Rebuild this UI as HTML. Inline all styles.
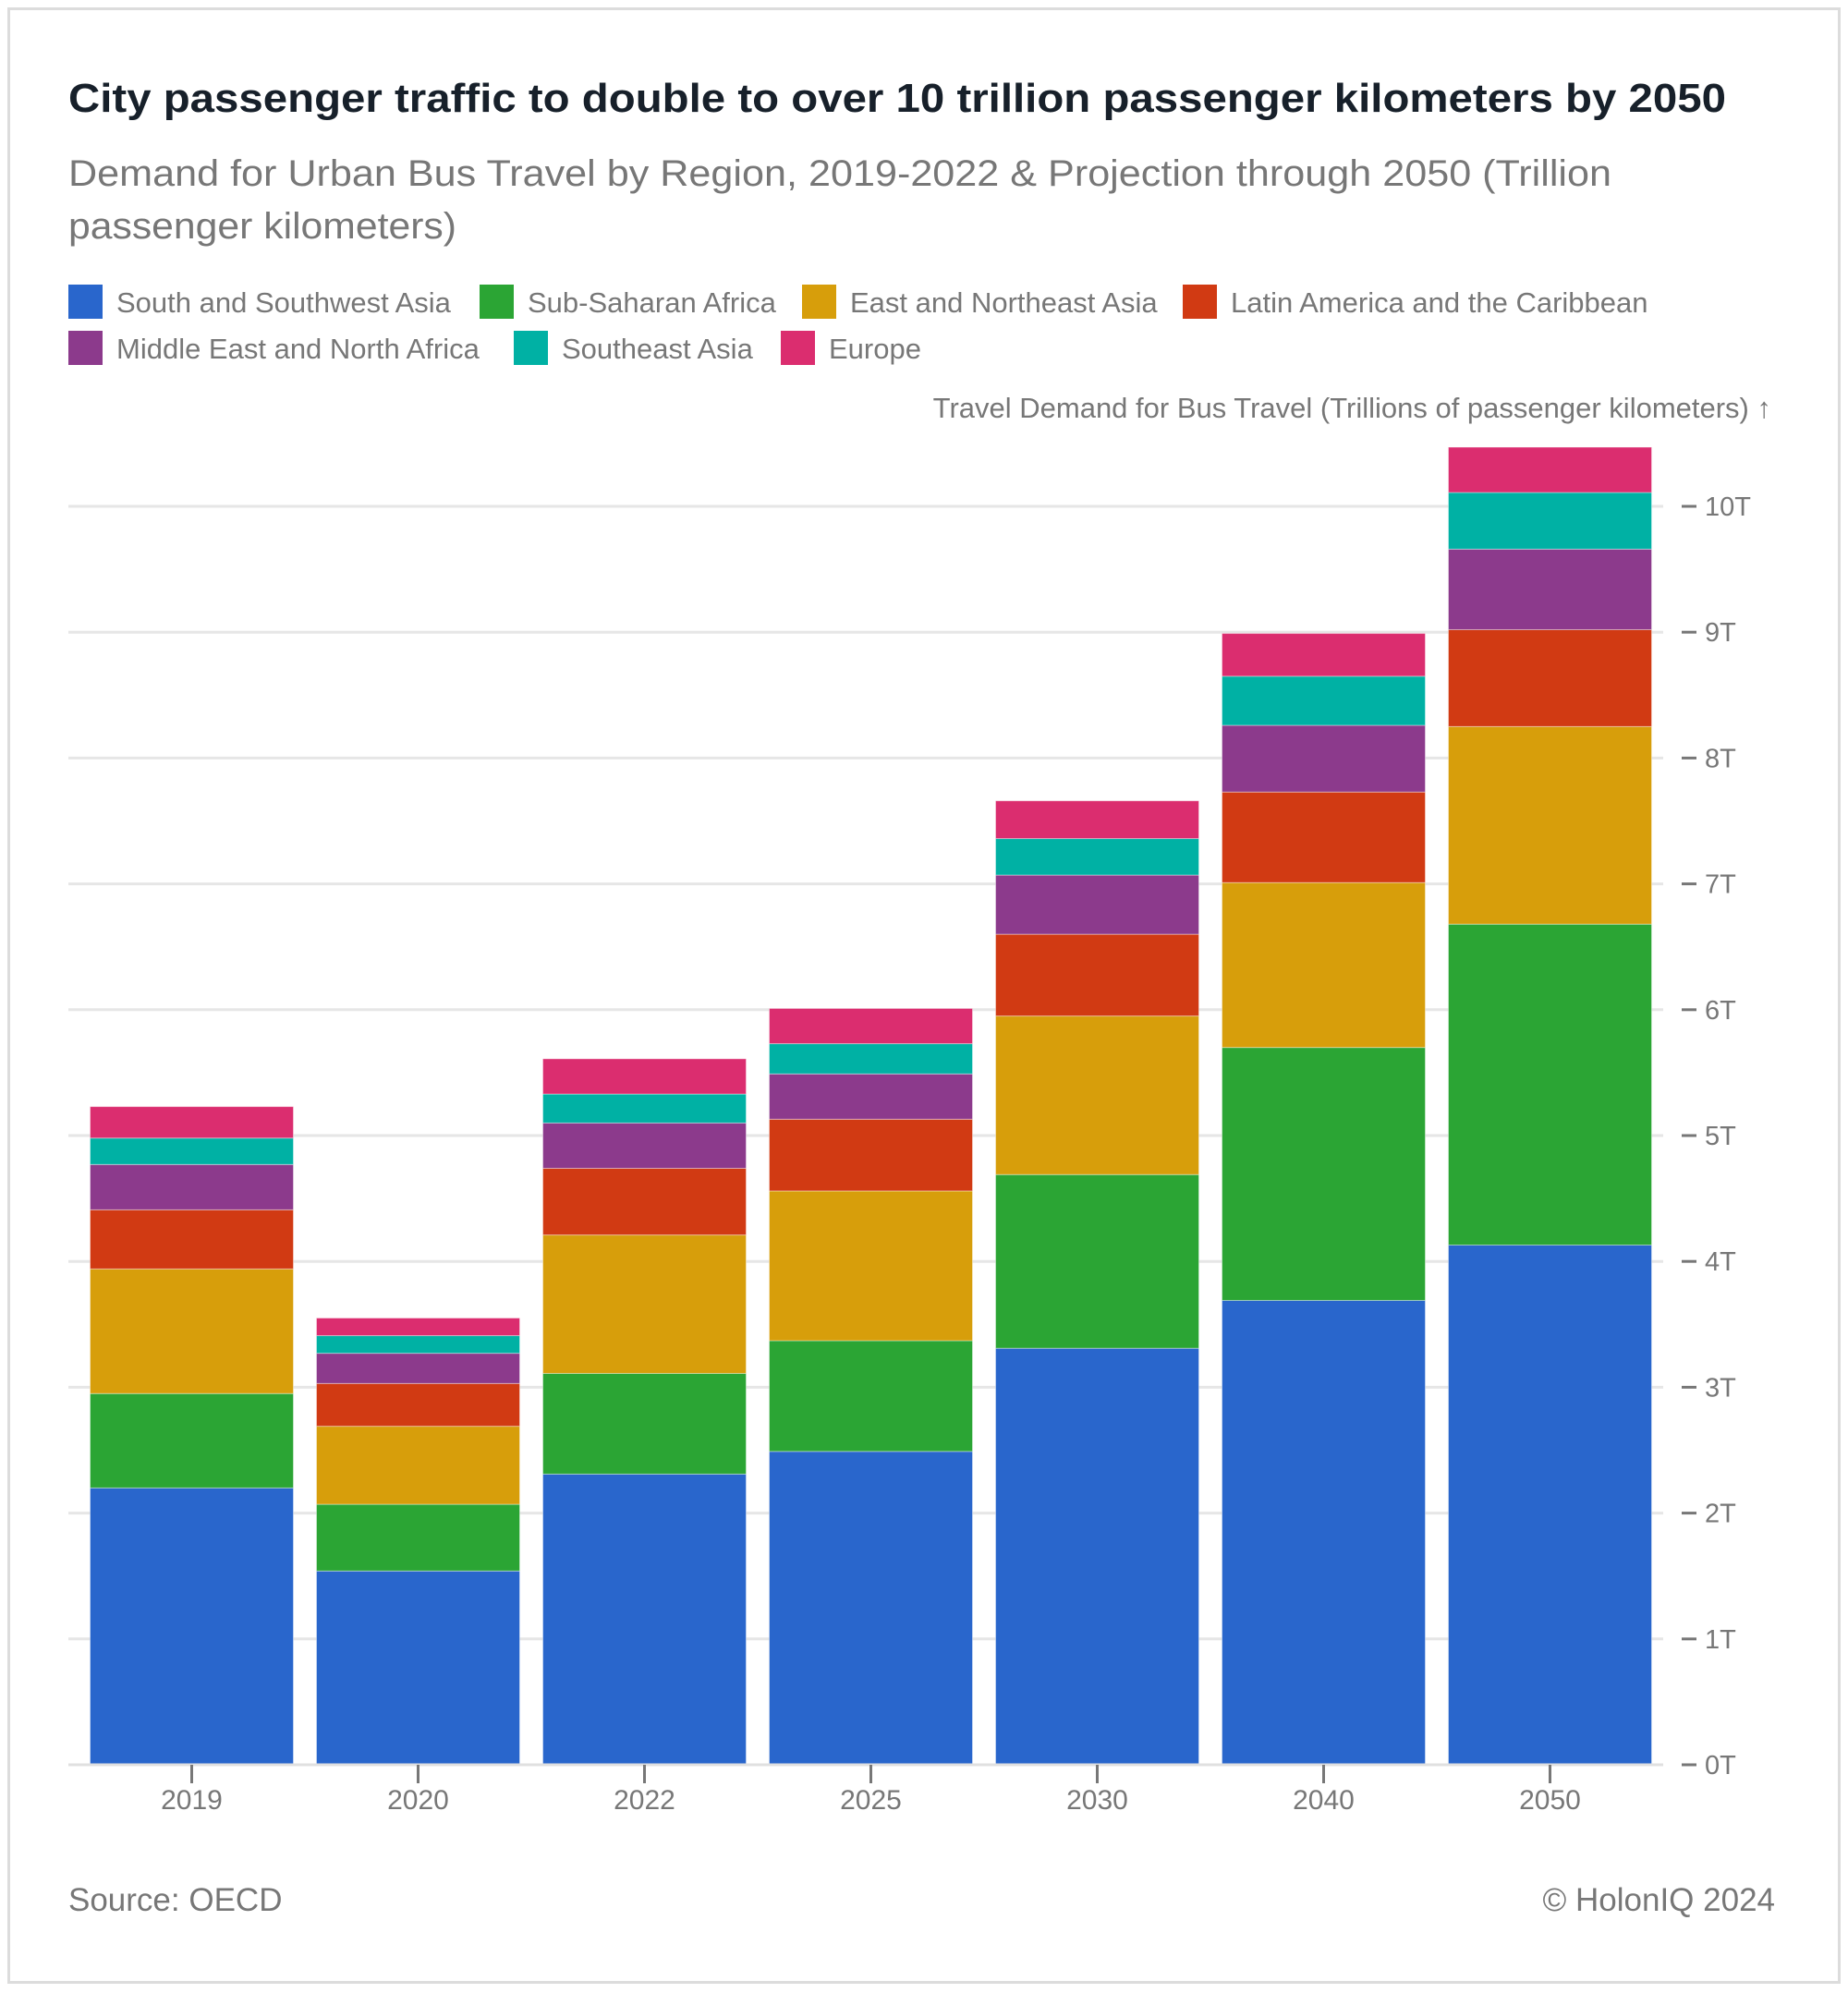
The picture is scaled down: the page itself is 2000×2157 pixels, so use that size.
<!DOCTYPE html>
<html><head><meta charset="utf-8"><style>
html,body{margin:0;padding:0;background:#fff;}
svg{display:block;font-family:"Liberation Sans",sans-serif;}
</style></head><body>
<svg id="chart" width="2000" height="2157" viewBox="0 0 2000 2157">
<rect x="9.5" y="9.5" width="1981" height="2136" fill="#fff" stroke="#dcdcdc" stroke-width="3"/>
<text x="74" y="121" font-size="44" font-weight="bold" fill="#17202a" textLength="1794" lengthAdjust="spacingAndGlyphs">City passenger traffic to double to over 10 trillion passenger kilometers by 2050</text>
<text x="74" y="201" font-size="40" fill="#777" textLength="1670" lengthAdjust="spacingAndGlyphs">Demand for Urban Bus Travel by Region, 2019-2022 &amp; Projection through 2050 (Trillion</text>
<text x="74" y="258" font-size="40" fill="#777" textLength="420" lengthAdjust="spacingAndGlyphs">passenger kilometers)</text>
<g id="legend"></g>
<text x="1917" y="452" font-size="31" fill="#777" text-anchor="end">Travel Demand for Bus Travel (Trillions of passenger kilometers) ↑</text>
<g id="grid"></g>
<g id="bars"></g>
<g id="xaxis"></g>
<text x="74" y="2068" font-size="35" fill="#777">Source: OECD</text>
<text x="1921" y="2068" font-size="35" fill="#777" text-anchor="end">© HolonIQ 2024</text>
</svg>
<script>
const categories = ["2019","2020","2022","2025","2030","2040","2050"];
const seriesNames = ["South and Southwest Asia","Sub-Saharan Africa","East and Northeast Asia","Latin America and the Caribbean","Middle East and North Africa","Southeast Asia","Europe"];
const southAsia = [2.20,1.54,2.31,2.49,3.31,3.69,4.13];
const subSaharan = [0.75,0.53,0.80,0.88,1.38,2.01,2.55];
const eastAsia = [0.99,0.62,1.10,1.19,1.26,1.31,1.57];
const latinAmerica = [0.47,0.34,0.53,0.57,0.65,0.72,0.77];
const middleEast = [0.36,0.24,0.36,0.36,0.47,0.53,0.64];
const southeastAsia = [0.21,0.14,0.23,0.24,0.29,0.39,0.45];
const europe = [0.25,0.14,0.28,0.28,0.30,0.34,0.36];
const yTicks = [0,1,2,3,4,5,6,7,8,9,10];
const yTickLabels = ["0T","1T","2T","3T","4T","5T","6T","7T","8T","9T","10T"];

const series = [southAsia,subSaharan,eastAsia,latinAmerica,middleEast,southeastAsia,europe];
const colors = ["#2966cc","#2ba534","#d79e0b","#d13a13","#8c3a8c","#00b1a4","#db2d6f"];
const NS = "http://www.w3.org/2000/svg";
const baseY = 1910, pxPerUnit = 136.2;
const y = v => baseY - v * pxPerUnit;
const bandStart = 74, band = 245, barW = 220;
const xCenter = i => bandStart + band * (i + 0.5) + 11;
function mk(tag, attrs, parent){const e=document.createElementNS(NS,tag);for(const k in attrs)e.setAttribute(k,attrs[k]);parent.appendChild(e);return e;}

const grid = document.getElementById('grid');
yTicks.forEach((t,i)=>{
  const l = mk('line',{x1:74,x2:1800,y1:y(t),y2:y(t),stroke:'#e6e6e6','stroke-width':3},grid);
  
  
  const tk = mk('line',{x1:1820,x2:1836,y1:y(t),y2:y(t),stroke:'#777','stroke-width':3},grid);
  
  
  const tx = mk('text',{x:1845,y:y(t)+10,'font-size':29,fill:'#777'},grid);
  tx.textContent = yTickLabels[i];
  
  
});

const bars = document.getElementById('bars');
categories.forEach((c,i)=>{
  let acc = 0;
  series.forEach((s,j)=>{
    const v = s[i];
    const r = mk('rect',{x:xCenter(i)-barW/2,y:y(acc+v),width:barW,height:v*pxPerUnit,fill:colors[j],stroke:'#fff','stroke-opacity':0.4,'stroke-width':1},bars);
    
    
    acc += v;
  });
});

const xa = document.getElementById('xaxis');
const al = mk('line',{x1:74,x2:1800,y1:baseY,y2:baseY,stroke:'#e0e0e0','stroke-width':3},xa);


categories.forEach((c,i)=>{
  const tk = mk('line',{x1:xCenter(i),x2:xCenter(i),y1:baseY,y2:baseY+20,stroke:'#777','stroke-width':3},xa);
  
  
  const t = mk('text',{x:xCenter(i),y:1958,'font-size':30,fill:'#777','text-anchor':'middle'},xa);
  t.textContent = c;
  
  
});

const legend = document.getElementById('legend');
const legPos = [[74,308],[519,308],[868,308],[1280,308],[74,358],[556,358],[845,358]];
seriesNames.forEach((n,j)=>{
  const g = mk('g',{},legend);
  
  
  const [lx,ly] = legPos[j];
  const sw = mk('rect',{x:lx,y:ly,width:37,height:37,fill:colors[j]},g);
  
  
  const t = mk('text',{x:lx+52,y:ly+30,'font-size':31,fill:'#777'},g);
  t.textContent = n;
  
  
});
</script>
</body></html>
